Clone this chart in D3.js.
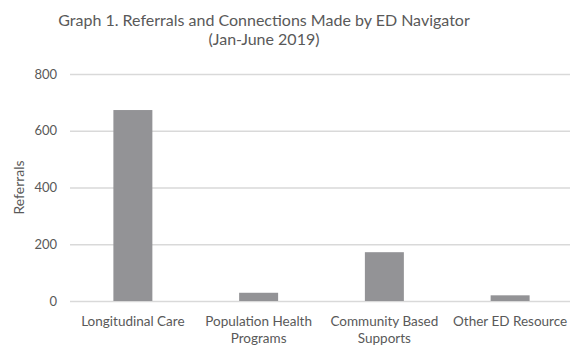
<!DOCTYPE html>
<html>
<head>
<meta charset="utf-8">
<script src="https://cdn.jsdelivr.net/npm/d3@7"></script>
<style>
  html, body { margin: 0; padding: 0; background: #fff; }
  svg { display: block; }
  text { font-family: Lato, "Open Sans", sans-serif; fill: #595959; }
</style>
</head>
<body>
<div id="chart"></div>
<script>
// Referrals by category, Jan-June 2019
const categories = [
  ["Longitudinal Care"],
  ["Population Health", "Programs"],
  ["Community Based", "Supports"],
  ["Other ED Resource"]
];
const referrals = [673, 29, 172, 20];
const yTicks = [0, 200, 400, 600, 800];
const titleLines = ["Graph 1. Referrals and Connections Made by ED Navigator", "(Jan-June 2019)"];
const yLabel = "Referrals";

const width = 571, height = 346;
const margin = { left: 70, right: -2, top: 74, bottom: 45 };

const svg = d3.select("#chart").append("svg")
  .attr("width", width).attr("height", height);

const x = d3.scaleBand()
  .domain(categories.map((c, i) => i))
  .range([margin.left, width - margin.right])
  .paddingInner(0).paddingOuter(0);

const y = d3.scaleLinear()
  .domain([0, 800])
  .range([height - margin.bottom, margin.top]);

// gridlines
svg.append("g")
  .attr("transform", `translate(${margin.left},0)`)
  .call(d3.axisLeft(y).tickValues(yTicks).tickSize(-(x.range()[1] - margin.left - 3)).tickFormat(d3.format("d")).tickPadding(13))
  .call(g => g.select(".domain").remove())
  .call(g => g.selectAll(".tick line").attr("stroke", "#d9d9d9").attr("stroke-width", 1.3))
  .call(g => g.selectAll(".tick text").attr("font-size", 13).style("fill", "#595959"));

// bars
const barW = x.bandwidth() * 0.31;
svg.append("g").selectAll("rect")
  .data(referrals)
  .join("rect")
  .attr("x", (d, i) => x(i) + (x.bandwidth() - barW) / 2)
  .attr("width", barW)
  .attr("y", d => y(d))
  .attr("height", d => y(0) - y(d))
  .attr("fill", "#939396");

// category labels
const xl = svg.append("g");
categories.forEach((lines, i) => {
  const t = xl.append("text")
    .attr("text-anchor", "middle")
    .attr("font-size", 13.5);
  lines.forEach((ln, j) => {
    t.append("tspan")
      .attr("x", x(i) + x.bandwidth() / 2)
      .attr("y", 326 + j * 17)
      .text(ln);
  });
});

// axis title
svg.append("text")
  .attr("transform", `translate(24,${(y(0) + y(800)) / 2}) rotate(-90)`)
  .attr("text-anchor", "middle")
  .attr("font-size", 14)
  .text(yLabel);

// chart title
const title = svg.append("text")
  .attr("text-anchor", "middle")
  .attr("font-size", 16);
titleLines.forEach((ln, j) => {
  title.append("tspan")
    .attr("x", 264)
    .attr("y", 26 + j * 19)
    .text(ln);
});
</script>
</body>
</html>
